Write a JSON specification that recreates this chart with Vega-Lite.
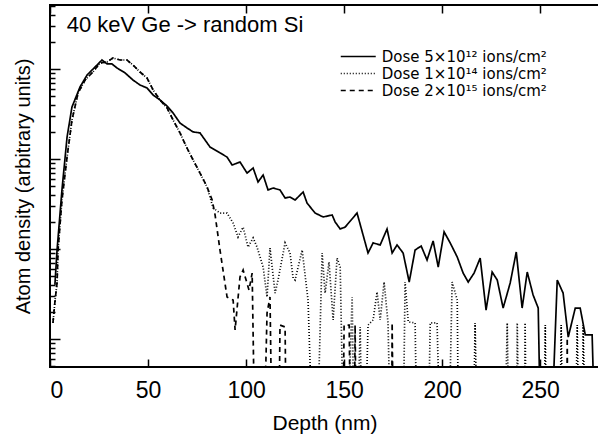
{
  "$schema": "https://vega.github.io/schema/vega-lite/v6.json",
  "width": 549,
  "height": 362,
  "autosize": {"type": "none"},
  "padding": {"left": 50, "top": 5, "right": 0, "bottom": 70},
  "background": "white",
  "config": {
    "view": {"stroke": "black", "strokeWidth": 2},
    "font": "Liberation Sans",
    "axis": {"domain": false, "grid": false, "tickColor": "black", "tickWidth": 1.5, "labelColor": "black", "titleColor": "black", "labelFont": "Liberation Sans", "titleFont": "Liberation Sans", "titleFontWeight": "normal"}
  },
  "datasets": {
    "notes": [{"label": "40 keV Ge -> random Si", "x": 8.5, "y": 3080}],
    "profiles": [
      {"dose": "Dose 5×10¹² ions/cm²", "depth": 2.5, "density": 4.0},
      {"dose": "Dose 5×10¹² ions/cm²", "depth": 3.6, "density": 9.75},
      {"dose": "Dose 5×10¹² ions/cm²", "depth": 6.1, "density": 45.3},
      {"dose": "Dose 5×10¹² ions/cm²", "depth": 8.7, "density": 175},
      {"dose": "Dose 5×10¹² ions/cm²", "depth": 11.2, "density": 378},
      {"dose": "Dose 5×10¹² ions/cm²", "depth": 15.3, "density": 631},
      {"dose": "Dose 5×10¹² ions/cm²", "depth": 18.9, "density": 857},
      {"dose": "Dose 5×10¹² ions/cm²", "depth": 24.0, "density": 1107},
      {"dose": "Dose 5×10¹² ions/cm²", "depth": 26.5, "density": 1259},
      {"dose": "Dose 5×10¹² ions/cm²", "depth": 29.1, "density": 1138},
      {"dose": "Dose 5×10¹² ions/cm²", "depth": 31.6, "density": 1138},
      {"dose": "Dose 5×10¹² ions/cm²", "depth": 34.2, "density": 1026},
      {"dose": "Dose 5×10¹² ions/cm²", "depth": 38.3, "density": 904},
      {"dose": "Dose 5×10¹² ions/cm²", "depth": 42.3, "density": 755},
      {"dose": "Dose 5×10¹² ions/cm²", "depth": 45.9, "density": 664},
      {"dose": "Dose 5×10¹² ions/cm²", "depth": 49.5, "density": 615},
      {"dose": "Dose 5×10¹² ions/cm²", "depth": 52.6, "density": 514},
      {"dose": "Dose 5×10¹² ions/cm²", "depth": 56.1, "density": 453},
      {"dose": "Dose 5×10¹² ions/cm²", "depth": 59.7, "density": 388},
      {"dose": "Dose 5×10¹² ions/cm²", "depth": 62.8, "density": 324},
      {"dose": "Dose 5×10¹² ions/cm²", "depth": 66.3, "density": 251},
      {"dose": "Dose 5×10¹² ions/cm²", "depth": 69.9, "density": 221},
      {"dose": "Dose 5×10¹² ions/cm²", "depth": 73.0, "density": 200},
      {"dose": "Dose 5×10¹² ions/cm²", "depth": 76.5, "density": 195},
      {"dose": "Dose 5×10¹² ions/cm²", "depth": 81.6, "density": 136},
      {"dose": "Dose 5×10¹² ions/cm²", "depth": 86.7, "density": 117},
      {"dose": "Dose 5×10¹² ions/cm²", "depth": 90.3, "density": 105},
      {"dose": "Dose 5×10¹² ions/cm²", "depth": 92.9, "density": 85.7},
      {"dose": "Dose 5×10¹² ions/cm²", "depth": 96.9, "density": 92.7},
      {"dose": "Dose 5×10¹² ions/cm²", "depth": 100.5, "density": 69.8},
      {"dose": "Dose 5×10¹² ions/cm²", "depth": 103.6, "density": 79.4},
      {"dose": "Dose 5×10¹² ions/cm²", "depth": 106.1, "density": 55.5},
      {"dose": "Dose 5×10¹² ions/cm²", "depth": 108.7, "density": 66.4},
      {"dose": "Dose 5×10¹² ions/cm²", "depth": 111.2, "density": 45.3},
      {"dose": "Dose 5×10¹² ions/cm²", "depth": 113.8, "density": 47.6},
      {"dose": "Dose 5×10¹² ions/cm²", "depth": 117.3, "density": 45.3},
      {"dose": "Dose 5×10¹² ions/cm²", "depth": 119.9, "density": 36.9},
      {"dose": "Dose 5×10¹² ions/cm²", "depth": 122.4, "density": 37.8},
      {"dose": "Dose 5×10¹² ions/cm²", "depth": 125.0, "density": 35.0},
      {"dose": "Dose 5×10¹² ions/cm²", "depth": 129.1, "density": 43.0},
      {"dose": "Dose 5×10¹² ions/cm²", "depth": 131.1, "density": 32.4},
      {"dose": "Dose 5×10¹² ions/cm²", "depth": 135.2, "density": 25.1},
      {"dose": "Dose 5×10¹² ions/cm²", "depth": 139.3, "density": 22.7},
      {"dose": "Dose 5×10¹² ions/cm²", "depth": 143.9, "density": 23.9},
      {"dose": "Dose 5×10¹² ions/cm²", "depth": 145.4, "density": 20.0},
      {"dose": "Dose 5×10¹² ions/cm²", "depth": 148.0, "density": 16.7},
      {"dose": "Dose 5×10¹² ions/cm²", "depth": 150.5, "density": 17.5},
      {"dose": "Dose 5×10¹² ions/cm²", "depth": 156.6, "density": 25.1},
      {"dose": "Dose 5×10¹² ions/cm²", "depth": 162.2, "density": 9.03},
      {"dose": "Dose 5×10¹² ions/cm²", "depth": 164.8, "density": 11.7},
      {"dose": "Dose 5×10¹² ions/cm²", "depth": 168.4, "density": 11.1},
      {"dose": "Dose 5×10¹² ions/cm²", "depth": 171.9, "density": 16.7},
      {"dose": "Dose 5×10¹² ions/cm²", "depth": 174.5, "density": 9.03},
      {"dose": "Dose 5×10¹² ions/cm²", "depth": 177.0, "density": 11.1},
      {"dose": "Dose 5×10¹² ions/cm²", "depth": 180.1, "density": 9.03},
      {"dose": "Dose 5×10¹² ions/cm²", "depth": 183.2, "density": 4.30},
      {"dose": "Dose 5×10¹² ions/cm²", "depth": 186.2, "density": 9.75},
      {"dose": "Dose 5×10¹² ions/cm²", "depth": 189.3, "density": 10.8},
      {"dose": "Dose 5×10¹² ions/cm²", "depth": 192.3, "density": 7.55},
      {"dose": "Dose 5×10¹² ions/cm²", "depth": 195.4, "density": 12.3},
      {"dose": "Dose 5×10¹² ions/cm²", "depth": 198.0, "density": 6.31},
      {"dose": "Dose 5×10¹² ions/cm²", "depth": 201.0, "density": 15.5},
      {"dose": "Dose 5×10¹² ions/cm²", "depth": 204.1, "density": 11.7},
      {"dose": "Dose 5×10¹² ions/cm²", "depth": 207.7, "density": 8.15},
      {"dose": "Dose 5×10¹² ions/cm²", "depth": 210.7, "density": 5.41},
      {"dose": "Dose 5×10¹² ions/cm²", "depth": 213.3, "density": 4.30},
      {"dose": "Dose 5×10¹² ions/cm²", "depth": 216.3, "density": 5.41},
      {"dose": "Dose 5×10¹² ions/cm²", "depth": 219.4, "density": 7.94},
      {"dose": "Dose 5×10¹² ions/cm²", "depth": 222.4, "density": 2.10},
      {"dose": "Dose 5×10¹² ions/cm²", "depth": 225.5, "density": 5.55},
      {"dose": "Dose 5×10¹² ions/cm²", "depth": 228.1, "density": 4.53},
      {"dose": "Dose 5×10¹² ions/cm²", "depth": 231.1, "density": 2.21},
      {"dose": "Dose 5×10¹² ions/cm²", "depth": 234.7, "density": 4.19},
      {"dose": "Dose 5×10¹² ions/cm²", "depth": 237.8, "density": 9.27},
      {"dose": "Dose 5×10¹² ions/cm²", "depth": 240.8, "density": 2.21},
      {"dose": "Dose 5×10¹² ions/cm²", "depth": 243.4, "density": 5.55},
      {"dose": "Dose 5×10¹² ions/cm²", "depth": 246.4, "density": 3.08},
      {"dose": "Dose 5×10¹² ions/cm²", "depth": 249.0, "density": 2.21},
      {"dose": "Dose 5×10¹² ions/cm²", "depth": 251.0, "density": 0.01},
      {"dose": "Dose 5×10¹² ions/cm²", "depth": 254.1, "density": 0.01},
      {"dose": "Dose 5×10¹² ions/cm²", "depth": 258.7, "density": 4.53},
      {"dose": "Dose 5×10¹² ions/cm²", "depth": 261.7, "density": 3.24},
      {"dose": "Dose 5×10¹² ions/cm²", "depth": 264.3, "density": 1.05},
      {"dose": "Dose 5×10¹² ions/cm²", "depth": 267.9, "density": 2.21},
      {"dose": "Dose 5×10¹² ions/cm²", "depth": 270.4, "density": 2.21},
      {"dose": "Dose 5×10¹² ions/cm²", "depth": 273.0, "density": 1.11},
      {"dose": "Dose 5×10¹² ions/cm²", "depth": 276.5, "density": 1.11},
      {"dose": "Dose 5×10¹² ions/cm²", "depth": 279.1, "density": 0.01},

      {"dose": "Dose 1×10¹⁴ ions/cm²", "depth": 1.5, "density": 1.51},
      {"dose": "Dose 1×10¹⁴ ions/cm²", "depth": 2.6, "density": 2.71},
      {"dose": "Dose 1×10¹⁴ ions/cm²", "depth": 3.6, "density": 4.19},
      {"dose": "Dose 1×10¹⁴ ions/cm²", "depth": 4.1, "density": 9.75},
      {"dose": "Dose 1×10¹⁴ ions/cm²", "depth": 6.1, "density": 35.0},
      {"dose": "Dose 1×10¹⁴ ions/cm²", "depth": 8.7, "density": 105},
      {"dose": "Dose 1×10¹⁴ ions/cm²", "depth": 11.2, "density": 271},
      {"dose": "Dose 1×10¹⁴ ions/cm²", "depth": 14.3, "density": 541},
      {"dose": "Dose 1×10¹⁴ ions/cm²", "depth": 17.9, "density": 755},
      {"dose": "Dose 1×10¹⁴ ions/cm²", "depth": 21.9, "density": 926},
      {"dose": "Dose 1×10¹⁴ ions/cm²", "depth": 25.5, "density": 1167},
      {"dose": "Dose 1×10¹⁴ ions/cm²", "depth": 29.1, "density": 1197},
      {"dose": "Dose 1×10¹⁴ ions/cm²", "depth": 32.1, "density": 1325},
      {"dose": "Dose 1×10¹⁴ ions/cm²", "depth": 35.7, "density": 1259},
      {"dose": "Dose 1×10¹⁴ ions/cm²", "depth": 39.3, "density": 1259},
      {"dose": "Dose 1×10¹⁴ ions/cm²", "depth": 42.3, "density": 1107},
      {"dose": "Dose 1×10¹⁴ ions/cm²", "depth": 45.9, "density": 926},
      {"dose": "Dose 1×10¹⁴ ions/cm²", "depth": 49.5, "density": 794},
      {"dose": "Dose 1×10¹⁴ ions/cm²", "depth": 52.6, "density": 584},
      {"dose": "Dose 1×10¹⁴ ions/cm²", "depth": 56.1, "density": 453},
      {"dose": "Dose 1×10¹⁴ ions/cm²", "depth": 59.7, "density": 369},
      {"dose": "Dose 1×10¹⁴ ions/cm²", "depth": 62.8, "density": 271},
      {"dose": "Dose 1×10¹⁴ ions/cm²", "depth": 66.3, "density": 195},
      {"dose": "Dose 1×10¹⁴ ions/cm²", "depth": 69.9, "density": 132},
      {"dose": "Dose 1×10¹⁴ ions/cm²", "depth": 73.0, "density": 97.5},
      {"dose": "Dose 1×10¹⁴ ions/cm²", "depth": 76.5, "density": 69.8},
      {"dose": "Dose 1×10¹⁴ ions/cm²", "depth": 80.1, "density": 48.9},
      {"dose": "Dose 1×10¹⁴ ions/cm²", "depth": 83.2, "density": 28.6},
      {"dose": "Dose 1×10¹⁴ ions/cm²", "depth": 86.7, "density": 25.1},
      {"dose": "Dose 1×10¹⁴ ions/cm²", "depth": 90.3, "density": 25.1},
      {"dose": "Dose 1×10¹⁴ ions/cm²", "depth": 93.4, "density": 19.4},
      {"dose": "Dose 1×10¹⁴ ions/cm²", "depth": 95.9, "density": 13.6},
      {"dose": "Dose 1×10¹⁴ ions/cm²", "depth": 98.5, "density": 17.5},
      {"dose": "Dose 1×10¹⁴ ions/cm²", "depth": 101.0, "density": 10.5},
      {"dose": "Dose 1×10¹⁴ ions/cm²", "depth": 103.6, "density": 13.3},
      {"dose": "Dose 1×10¹⁴ ions/cm²", "depth": 105.6, "density": 10.5},
      {"dose": "Dose 1×10¹⁴ ions/cm²", "depth": 108.7, "density": 6.31},
      {"dose": "Dose 1×10¹⁴ ions/cm²", "depth": 110.7, "density": 2.93},
      {"dose": "Dose 1×10¹⁴ ions/cm²", "depth": 112.2, "density": 10.3},
      {"dose": "Dose 1×10¹⁴ ions/cm²", "depth": 114.8, "density": 3.24},
      {"dose": "Dose 1×10¹⁴ ions/cm²", "depth": 116.3, "density": 4.53},
      {"dose": "Dose 1×10¹⁴ ions/cm²", "depth": 119.9, "density": 11.7},
      {"dose": "Dose 1×10¹⁴ ions/cm²", "depth": 122.4, "density": 9.03},
      {"dose": "Dose 1×10¹⁴ ions/cm²", "depth": 124.0, "density": 4.76},
      {"dose": "Dose 1×10¹⁴ ions/cm²", "depth": 125.0, "density": 4.53},
      {"dose": "Dose 1×10¹⁴ ions/cm²", "depth": 128.6, "density": 9.75},
      {"dose": "Dose 1×10¹⁴ ions/cm²", "depth": 131.6, "density": 2.71},
      {"dose": "Dose 1×10¹⁴ ions/cm²", "depth": 135.2, "density": 0.01},
      {"dose": "Dose 1×10¹⁴ ions/cm²", "depth": 138.8, "density": 9.03},
      {"dose": "Dose 1×10¹⁴ ions/cm²", "depth": 140.3, "density": 3.24},
      {"dose": "Dose 1×10¹⁴ ions/cm²", "depth": 142.3, "density": 7.17},
      {"dose": "Dose 1×10¹⁴ ions/cm²", "depth": 144.4, "density": 1.63},
      {"dose": "Dose 1×10¹⁴ ions/cm²", "depth": 146.4, "density": 7.94},
      {"dose": "Dose 1×10¹⁴ ions/cm²", "depth": 148.0, "density": 6.31},
      {"dose": "Dose 1×10¹⁴ ions/cm²", "depth": 150.5, "density": 0.01},
      {"dose": "Dose 1×10¹⁴ ions/cm²", "depth": 154.1, "density": 2.93},
      {"dose": "Dose 1×10¹⁴ ions/cm²", "depth": 155.6, "density": 0.01},
      {"dose": "Dose 1×10¹⁴ ions/cm²", "depth": 158.2, "density": 1.36},
      {"dose": "Dose 1×10¹⁴ ions/cm²", "depth": 159.7, "density": 0.01},
      {"dose": "Dose 1×10¹⁴ ions/cm²", "depth": 162.2, "density": 1.43},
      {"dose": "Dose 1×10¹⁴ ions/cm²", "depth": 164.8, "density": 1.63},
      {"dose": "Dose 1×10¹⁴ ions/cm²", "depth": 166.8, "density": 3.33},
      {"dose": "Dose 1×10¹⁴ ions/cm²", "depth": 168.4, "density": 1.63},
      {"dose": "Dose 1×10¹⁴ ions/cm²", "depth": 170.4, "density": 4.30},
      {"dose": "Dose 1×10¹⁴ ions/cm²", "depth": 172.4, "density": 1.51},
      {"dose": "Dose 1×10¹⁴ ions/cm²", "depth": 174.5, "density": 0.01},
      {"dose": "Dose 1×10¹⁴ ions/cm²", "depth": 179.6, "density": 0.01},
      {"dose": "Dose 1×10¹⁴ ions/cm²", "depth": 181.1, "density": 4.30},
      {"dose": "Dose 1×10¹⁴ ions/cm²", "depth": 182.7, "density": 1.55},
      {"dose": "Dose 1×10¹⁴ ions/cm²", "depth": 186.2, "density": 1.51},
      {"dose": "Dose 1×10¹⁴ ions/cm²", "depth": 187.8, "density": 0.01},
      {"dose": "Dose 1×10¹⁴ ions/cm²", "depth": 192.3, "density": 0.01},
      {"dose": "Dose 1×10¹⁴ ions/cm²", "depth": 193.9, "density": 1.51},
      {"dose": "Dose 1×10¹⁴ ions/cm²", "depth": 197.4, "density": 1.51},
      {"dose": "Dose 1×10¹⁴ ions/cm²", "depth": 200.0, "density": 0.01},
      {"dose": "Dose 1×10¹⁴ ions/cm²", "depth": 202.6, "density": 0.01},
      {"dose": "Dose 1×10¹⁴ ions/cm²", "depth": 205.1, "density": 4.30},
      {"dose": "Dose 1×10¹⁴ ions/cm²", "depth": 207.7, "density": 2.71},
      {"dose": "Dose 1×10¹⁴ ions/cm²", "depth": 208.7, "density": 0.01},
      {"dose": "Dose 1×10¹⁴ ions/cm²", "depth": 215.3, "density": 0.01},
      {"dose": "Dose 1×10¹⁴ ions/cm²", "depth": 216.8, "density": 1.51},
      {"dose": "Dose 1×10¹⁴ ions/cm²", "depth": 218.9, "density": 0.01},
      {"dose": "Dose 1×10¹⁴ ions/cm²", "depth": 231.1, "density": 0.01},
      {"dose": "Dose 1×10¹⁴ ions/cm²", "depth": 233.2, "density": 1.51},
      {"dose": "Dose 1×10¹⁴ ions/cm²", "depth": 234.7, "density": 0.01},
      {"dose": "Dose 1×10¹⁴ ions/cm²", "depth": 237.8, "density": 0.01},
      {"dose": "Dose 1×10¹⁴ ions/cm²", "depth": 238.3, "density": 1.51},
      {"dose": "Dose 1×10¹⁴ ions/cm²", "depth": 239.8, "density": 0.01},
      {"dose": "Dose 1×10¹⁴ ions/cm²", "depth": 241.8, "density": 0.01},
      {"dose": "Dose 1×10¹⁴ ions/cm²", "depth": 242.3, "density": 1.51},
      {"dose": "Dose 1×10¹⁴ ions/cm²", "depth": 243.4, "density": 0.01},
      {"dose": "Dose 1×10¹⁴ ions/cm²", "depth": 251.5, "density": 0.01},
      {"dose": "Dose 1×10¹⁴ ions/cm²", "depth": 252.6, "density": 1.43},
      {"dose": "Dose 1×10¹⁴ ions/cm²", "depth": 253.6, "density": 0.01},
      {"dose": "Dose 1×10¹⁴ ions/cm²", "depth": 259.7, "density": 0.01},
      {"dose": "Dose 1×10¹⁴ ions/cm²", "depth": 260.7, "density": 1.43},
      {"dose": "Dose 1×10¹⁴ ions/cm²", "depth": 262.2, "density": 0.01},
      {"dose": "Dose 1×10¹⁴ ions/cm²", "depth": 267.3, "density": 0.01},
      {"dose": "Dose 1×10¹⁴ ions/cm²", "depth": 268.9, "density": 1.43},
      {"dose": "Dose 1×10¹⁴ ions/cm²", "depth": 270.4, "density": 0.01},
      {"dose": "Dose 1×10¹⁴ ions/cm²", "depth": 271.4, "density": 0.01},
      {"dose": "Dose 1×10¹⁴ ions/cm²", "depth": 271.9, "density": 1.43},
      {"dose": "Dose 1×10¹⁴ ions/cm²", "depth": 274.0, "density": 0.01},
      {"dose": "Dose 1×10¹⁴ ions/cm²", "depth": 279.0, "density": 0.01},

      {"dose": "Dose 2×10¹⁵ ions/cm²", "depth": 1.5, "density": 1.51},
      {"dose": "Dose 2×10¹⁵ ions/cm²", "depth": 2.6, "density": 2.71},
      {"dose": "Dose 2×10¹⁵ ions/cm²", "depth": 3.6, "density": 4.19},
      {"dose": "Dose 2×10¹⁵ ions/cm²", "depth": 4.1, "density": 9.75},
      {"dose": "Dose 2×10¹⁵ ions/cm²", "depth": 6.1, "density": 35.0},
      {"dose": "Dose 2×10¹⁵ ions/cm²", "depth": 8.7, "density": 105},
      {"dose": "Dose 2×10¹⁵ ions/cm²", "depth": 11.2, "density": 271},
      {"dose": "Dose 2×10¹⁵ ions/cm²", "depth": 14.3, "density": 541},
      {"dose": "Dose 2×10¹⁵ ions/cm²", "depth": 17.9, "density": 755},
      {"dose": "Dose 2×10¹⁵ ions/cm²", "depth": 21.9, "density": 926},
      {"dose": "Dose 2×10¹⁵ ions/cm²", "depth": 25.5, "density": 1167},
      {"dose": "Dose 2×10¹⁵ ions/cm²", "depth": 29.1, "density": 1197},
      {"dose": "Dose 2×10¹⁵ ions/cm²", "depth": 32.1, "density": 1325},
      {"dose": "Dose 2×10¹⁵ ions/cm²", "depth": 35.7, "density": 1259},
      {"dose": "Dose 2×10¹⁵ ions/cm²", "depth": 39.3, "density": 1259},
      {"dose": "Dose 2×10¹⁵ ions/cm²", "depth": 42.3, "density": 1107},
      {"dose": "Dose 2×10¹⁵ ions/cm²", "depth": 45.9, "density": 926},
      {"dose": "Dose 2×10¹⁵ ions/cm²", "depth": 49.5, "density": 794},
      {"dose": "Dose 2×10¹⁵ ions/cm²", "depth": 52.6, "density": 584},
      {"dose": "Dose 2×10¹⁵ ions/cm²", "depth": 56.1, "density": 453},
      {"dose": "Dose 2×10¹⁵ ions/cm²", "depth": 59.7, "density": 369},
      {"dose": "Dose 2×10¹⁵ ions/cm²", "depth": 62.8, "density": 271},
      {"dose": "Dose 2×10¹⁵ ions/cm²", "depth": 66.3, "density": 195},
      {"dose": "Dose 2×10¹⁵ ions/cm²", "depth": 69.9, "density": 132},
      {"dose": "Dose 2×10¹⁵ ions/cm²", "depth": 73.0, "density": 97.5},
      {"dose": "Dose 2×10¹⁵ ions/cm²", "depth": 76.5, "density": 69.8},
      {"dose": "Dose 2×10¹⁵ ions/cm²", "depth": 80.1, "density": 48.9},
      {"dose": "Dose 2×10¹⁵ ions/cm²", "depth": 82.7, "density": 35.0},
      {"dose": "Dose 2×10¹⁵ ions/cm²", "depth": 84.2, "density": 23.9},
      {"dose": "Dose 2×10¹⁵ ions/cm²", "depth": 86.7, "density": 9.75},
      {"dose": "Dose 2×10¹⁵ ions/cm²", "depth": 90.3, "density": 2.93},
      {"dose": "Dose 2×10¹⁵ ions/cm²", "depth": 93.4, "density": 2.71},
      {"dose": "Dose 2×10¹⁵ ions/cm²", "depth": 94.4, "density": 1.26},
      {"dose": "Dose 2×10¹⁵ ions/cm²", "depth": 96.9, "density": 4.89},
      {"dose": "Dose 2×10¹⁵ ions/cm²", "depth": 98.5, "density": 5.84},
      {"dose": "Dose 2×10¹⁵ ions/cm²", "depth": 101.5, "density": 3.50},
      {"dose": "Dose 2×10¹⁵ ions/cm²", "depth": 103.1, "density": 5.41},
      {"dose": "Dose 2×10¹⁵ ions/cm²", "depth": 105.1, "density": 0.01},
      {"dose": "Dose 2×10¹⁵ ions/cm²", "depth": 108.2, "density": 0.01},
      {"dose": "Dose 2×10¹⁵ ions/cm²", "depth": 110.7, "density": 1.95},
      {"dose": "Dose 2×10¹⁵ ions/cm²", "depth": 112.2, "density": 2.93},
      {"dose": "Dose 2×10¹⁵ ions/cm²", "depth": 113.8, "density": 0.01},
      {"dose": "Dose 2×10¹⁵ ions/cm²", "depth": 116.3, "density": 0.01},
      {"dose": "Dose 2×10¹⁵ ions/cm²", "depth": 117.3, "density": 1.43},
      {"dose": "Dose 2×10¹⁵ ions/cm²", "depth": 119.9, "density": 1.36},
      {"dose": "Dose 2×10¹⁵ ions/cm²", "depth": 120.9, "density": 0.01},
      {"dose": "Dose 2×10¹⁵ ions/cm²", "depth": 149.0, "density": 0.01},
      {"dose": "Dose 2×10¹⁵ ions/cm²", "depth": 150.0, "density": 1.43},
      {"dose": "Dose 2×10¹⁵ ions/cm²", "depth": 152.6, "density": 1.43},
      {"dose": "Dose 2×10¹⁵ ions/cm²", "depth": 153.6, "density": 0.01},
      {"dose": "Dose 2×10¹⁵ ions/cm²", "depth": 155.0, "density": 0.01},
      {"dose": "Dose 2×10¹⁵ ions/cm²", "depth": 155.6, "density": 1.43},
      {"dose": "Dose 2×10¹⁵ ions/cm²", "depth": 156.6, "density": 0.01},
      {"dose": "Dose 2×10¹⁵ ions/cm²", "depth": 174.0, "density": 0.01},
      {"dose": "Dose 2×10¹⁵ ions/cm²", "depth": 174.5, "density": 1.51},
      {"dose": "Dose 2×10¹⁵ ions/cm²", "depth": 175.5, "density": 0.01},
      {"dose": "Dose 2×10¹⁵ ions/cm²", "depth": 263.3, "density": 0.01},
      {"dose": "Dose 2×10¹⁵ ions/cm²", "depth": 263.8, "density": 1.03},
      {"dose": "Dose 2×10¹⁵ ions/cm²", "depth": 264.3, "density": 0.01},
      {"dose": "Dose 2×10¹⁵ ions/cm²", "depth": 279.0, "density": 0.01}
    ]
  },
  "layer": [
    {
      "data": {"name": "profiles"},
      "mark": {"type": "line", "color": "black", "strokeWidth": 1.7, "clip": true},
      "encoding": {
        "x": {
          "field": "depth", "type": "quantitative",
          "scale": {"domain": [0, 280], "nice": false, "zero": false},
          "axis": {"orient": "bottom", "values": [0, 50, 100, 150, 200, 250], "tickSize": -8, "labelPadding": 20, "labelFontSize": 23, "title": "Depth (nm)", "titleFontSize": 21, "titlePadding": 10}
        },
        "y": {
          "field": "density", "type": "quantitative",
          "scale": {"type": "log", "domain": [0.489, 5140], "nice": false},
          "axis": {
            "orient": "left",
            "values": [0.5, 0.6, 0.7, 0.8, 0.9, 1, 2, 3, 4, 5, 6, 7, 8, 9, 10, 20, 30, 40, 50, 60, 70, 80, 90, 100, 200, 300, 400, 500, 600, 700, 800, 900, 1000, 2000, 3000, 4000, 5000],
            "labels": false,
            "tickSize": {"condition": {"test": "datum.value == 1 || datum.value == 10 || datum.value == 100 || datum.value == 1000", "value": -10}, "value": -5},
            "title": "Atom density (arbitrary units)", "titleFontSize": 20, "titlePadding": 16
          }
        },
        "strokeDash": {
          "field": "dose", "type": "nominal",
          "scale": {"domain": ["Dose 5×10¹² ions/cm²", "Dose 1×10¹⁴ ions/cm²", "Dose 2×10¹⁵ ions/cm²"], "range": [[1, 0], [1, 2], [5, 4]]},
          "legend": {"orient": "none", "legendX": 300.75, "legendY": 44, "title": null, "symbolType": "M-3,0H3", "symbolSize": 136, "symbolStrokeWidth": 1.5, "symbolStrokeColor": "black", "symbolFillColor": "transparent", "labelFont": "DejaVu Sans", "labelFontSize": 15, "labelColor": "black", "labelOffset": 16, "rowPadding": 1, "padding": 0, "labelLimit": 400}
        }
      }
    },
    {
      "data": {"name": "notes"},
      "mark": {"type": "text", "align": "left", "baseline": "middle", "fontSize": 22, "color": "black", "font": "Liberation Sans"},
      "encoding": {
        "x": {
          "field": "x", "type": "quantitative",
          "scale": {"domain": [0, 280], "nice": false, "zero": false},
          "axis": {"orient": "top", "values": [0, 50, 100, 150, 200, 250], "labels": false, "tickSize": -8, "title": null}
        },
        "y": {"field": "y", "type": "quantitative"},
        "text": {"field": "label"}
      }
    }
  ],
  "resolve": {"axis": {"x": "independent"}}
}
